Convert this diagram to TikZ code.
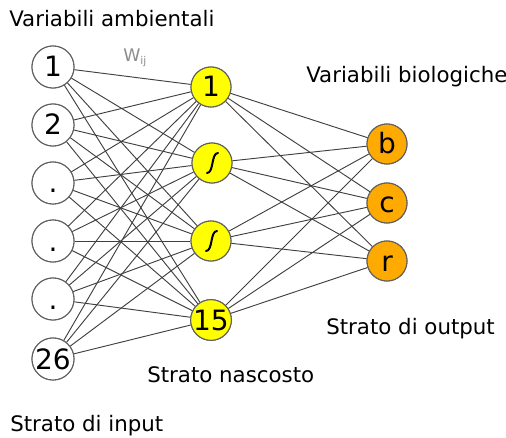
\documentclass[tikz,border=0pt]{standalone}
\usepackage{fontspec}
\setmainfont{DejaVu Sans}
\definecolor{hidfill}{HTML}{FFFF00}
\definecolor{outfill}{HTML}{FFAA00}
\definecolor{edgec}{HTML}{404040}
\definecolor{bordc}{HTML}{606060}
\begin{document}
\begin{tikzpicture}[x=0.75pt,y=-0.75pt,
  neuron/.style={circle,draw=bordc,line width=0.8pt,inner sep=0pt,font=\fontsize{21}{21}\selectfont,text height=15pt,text depth=0pt},
  inp/.style={neuron,fill=white,minimum size=31.5pt},
  hid/.style={neuron,fill=hidfill,minimum size=30pt},
  outn/.style={neuron,fill=outfill,minimum size=30pt},
  conn/.style={draw=edgec,line width=0.7pt},
  lab/.style={font=\fontsize{16}{17}\selectfont,anchor=west,inner sep=0pt},
  sig/.style={line width=1.5pt,line cap=round}]
\useasboundingbox (0,0) rectangle (506,438);
% input layer
\node[inp] (i1) at (53,67) {1};
\node[inp] (i2) at (53,125) {2};
\node[inp] (i3) at (53,183) {.};
\node[inp] (i4) at (53,241) {.};
\node[inp] (i5) at (53,299) {.};
\node[inp] (i6) at (53,359) {26};
% hidden layer
\node[hid] (h1) at (211,87) {1};
\node[hid] (h2) at (212,163) {};
\node[hid] (h3) at (211,241) {};
\node[hid] (h4) at (211,320) {15};
% output layer
\node[outn] (o1) at (387,144) {b};
\node[outn] (o2) at (387,203) {c};
\node[outn] (o3) at (387,261) {r};
% connectors
\foreach \i in {1,...,6}{
  \foreach \h in {1,...,4}{
    \path[conn] (i\i) -- (h\h);
  }
}
\foreach \h in {1,...,4}{
  \foreach \o in {1,2,3}{
    \path[conn] (h\h) -- (o\o);
  }
}
% redraw nodes on top
\node[inp] at (i1) {1};
\node[inp] at (i2) {2};
\node[inp] at (i3) {.};
\node[inp] at (i4) {.};
\node[inp] at (i5) {.};
\node[inp] at (i6) {26};
\node[hid] at (h1) {1};
\node[hid] at (h2) {};
\node[hid] at (h3) {};
\node[hid] at (h4) {15};
\node[outn] at (o1) {b};
\node[outn] at (o2) {c};
\node[outn] at (o3) {r};
% sigmoid symbols
\foreach \h in {h2,h3}{
  \draw[sig] ([shift={(-5,10)}]\h.center) .. controls ([shift={(2,10)}]\h.center) and ([shift={(-1,-10)}]\h.center) .. ([shift={(6,-10)}]\h.center);
}
% labels
\node[lab] (t1) at (9,19) {Variabili ambientali};
\node[lab] (t2) at (306,77) {Variabili biologiche};
\node[lab] (t3) at (147,375) {Strato nascosto};
\node[lab] (t4) at (326,329) {Strato di output};
\node[lab] (t5) at (10,426) {Strato di input};
\node[text=gray!90,inner sep=0pt,anchor=west] (w) at (123,58) {\fontsize{13}{13}\selectfont W\raisebox{-2.5pt}{\fontsize{8}{8}\selectfont ij}};
\end{tikzpicture}
\end{document}
